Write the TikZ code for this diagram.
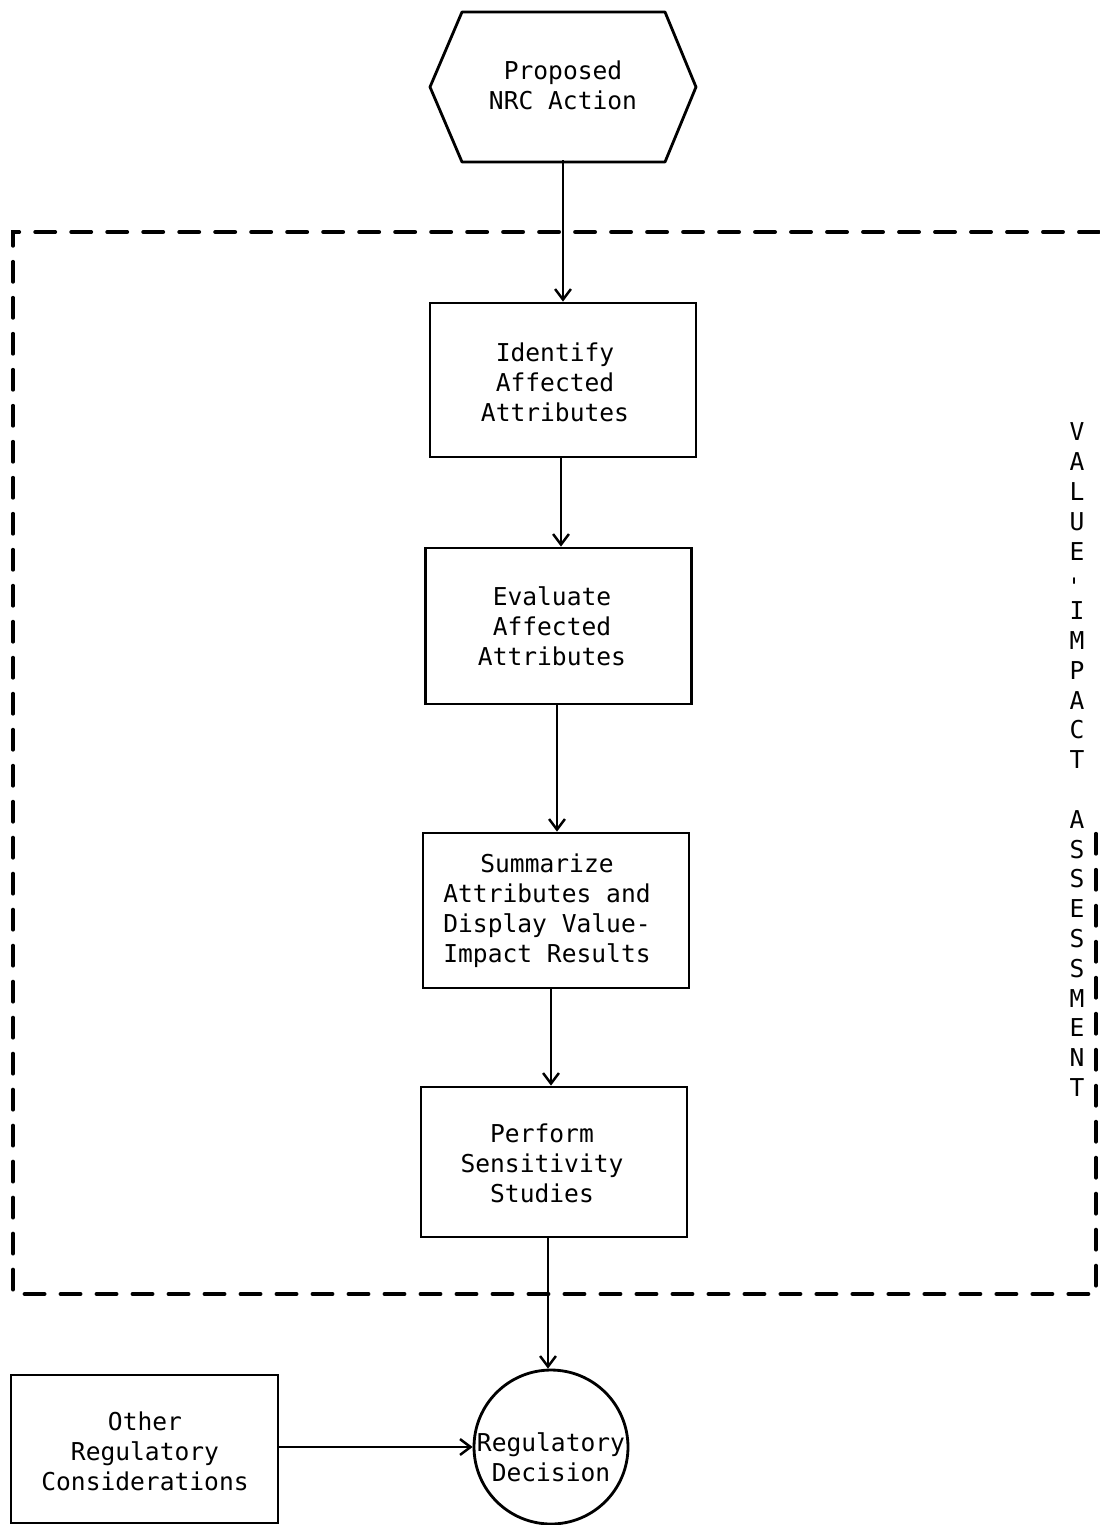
\documentclass[tikz,border=0pt]{standalone}
\usepackage{fontspec}
\setmonofont{DejaVu Sans Mono}
\usetikzlibrary{arrows.meta}
\tikzset{
  txt/.style={font=\ttfamily\fontsize{14}{17}\selectfont, align=center, inner sep=0pt},
  stepbox/.style={draw, line width=1.6pt, minimum width=5.32cm, inner sep=0pt},
  flow/.style={line width=1.6pt, -{Straight Barb[length=6pt,width=9pt,line width=1.4pt]}},
  frame/.style={line width=2.2pt, dash pattern=on 0.4cm off 0.32cm, line cap=round},
  vlet/.style={font=\ttfamily\fontsize{14}{17}\selectfont, inner sep=0pt}
}
\begin{document}
\begin{tikzpicture}[x=0.02cm,y=-0.02cm]
\useasboundingbox (0,0) rectangle (1099,1525);
% hexagon
\node[txt, minimum width=5.32cm, minimum height=3cm] (hex) at (563,85) {Proposed\\NRC Action};
\draw[line width=1.6pt, line join=round] (430,87) -- (462,12) -- (665,12) -- (696,87) -- (665,162) -- (462,162) -- cycle;
% dashed frame
\draw[frame] (1099,232) -- (13,232) -- (13,1294) -- (1096,1294) -- (1096,830);
% boxes
\node[stepbox, minimum height=3.08cm] (b1) at (563,380) {};
\node[txt] (t1) at (555,382) {Identify\\Affected\\Attributes};
\node[stepbox, minimum height=3.12cm] (b2) at (558.5,626) {};
\node[txt] (t2) at (552,626) {Evaluate\\Affected\\Attributes};
\node[stepbox, minimum height=3.1cm] (b3) at (556,910.5) {};
\node[txt] (t3) at (547,911) {Summarize\\Attributes and\\Display Value-\\Impact Results};
\node[stepbox, minimum height=3cm] (b4) at (554,1162) {};
\node[txt] (t4) at (542,1163) {Perform\\Sensitivity\\Studies};
\node[draw, line width=1.6pt, circle, minimum size=3.08cm, inner sep=0pt] (dec) at (551,1447) {};
\node[txt] (td) at (551,1457) {Regulatory\\Decision};
\node[stepbox, minimum width=5.34cm, minimum height=2.96cm] (oth) at (144.5,1449) {};
\node[txt] (to) at (145,1451) {Other\\Regulatory\\Considerations};
% connectors
\draw[flow] (hex.south) -- (hex.south |- b1.north);
\draw[flow] ([xshift=-0.04cm]b1.south) -- ([xshift=-0.04cm]b1.south |- b2.north);
\draw[flow] ([xshift=-0.03cm]b2.south) -- ([xshift=-0.03cm]b2.south |- b3.north);
\draw[flow] ([xshift=-0.1cm]b3.south) -- ([xshift=-0.1cm]b3.south |- b4.north);
\draw[flow] ([xshift=-0.12cm]b4.south) -- ([xshift=-0.12cm]b4.south |- dec.north);
\draw[flow] (oth.east |- dec.west) -- (dec.west);
% vertical label
\foreach \c [count=\i] in {V,A,L,U,E,{\rotatebox{90}{-}},I,M,P,A,C,T,{},A,S,S,E,S,S,M,E,N,T}
  \node[vlet] (v\i) at (1077,{432+(\i-1)*29.8}) {\c};
\end{tikzpicture}
\end{document}
